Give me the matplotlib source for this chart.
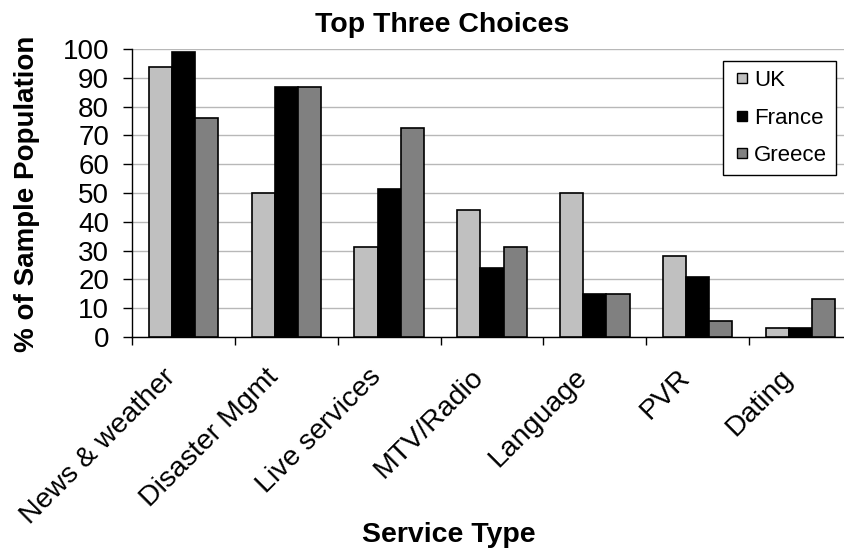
import numpy as np
import matplotlib
matplotlib.use('Agg')
from matplotlib import pyplot as plt
import matplotlib.transforms as mtransforms
from matplotlib.lines import Line2D

# Arial-like font
plt.rcParams['font.family'] = ['Liberation Sans', 'DejaVu Sans']

categories = ['News & weather', 'Disaster Mgmt', 'Live services', 'MTV/Radio',
              'Language', 'PVR', 'Dating']
series = ['UK', 'France', 'Greece']
uk = [93.6, 50.0, 31.3, 44.0, 50.0, 28.2, 3.1]
france = [98.9, 86.9, 51.5, 23.9, 15.1, 20.8, 3.2]
greece = [76.2, 86.9, 72.5, 31.3, 15.0, 5.5, 13.2]
colors = ['#c0c0c0', '#000000', '#808080']

fig = plt.figure(figsize=(8.45, 5.48), dpi=100)
ax = fig.add_axes([132 / 845, 1 - 337 / 548, 720 / 845, 288 / 548])

x = np.arange(len(categories))
w = 0.225
for i, (vals, name, c) in enumerate(zip([uk, france, greece], series, colors)):
    ax.bar(x + (i - 1) * w, vals, w, color=c, edgecolor='black',
           linewidth=1.2, label=name, zorder=3)

ax.set_xlim(-0.5, len(categories) - 0.5)
ax.set_ylim(0, 100)
ax.set_yticks(np.arange(0, 101, 10))
ax.yaxis.grid(True, color='#b8b8b8', linewidth=1)
ax.set_axisbelow(True)

# ticks at category boundaries, labels at centres
ax.set_xticks(np.arange(len(categories) + 1) - 0.5)
ax.set_xticklabels([])
ax.set_xticks(x, minor=True)
ax.set_xticklabels(categories, minor=True, rotation=45, ha='right',
                   va='center', rotation_mode='anchor')
ax.tick_params(axis='x', which='minor', length=0, pad=26, labelsize=20.5)
ax.tick_params(axis='x', which='major', length=6, width=1)
ax.tick_params(axis='y', length=6.5, width=1, labelsize=20, pad=10)
offset = mtransforms.ScaledTranslation(-12 / 100, 0, fig.dpi_scale_trans)
for lab in ax.get_xticklabels(minor=True):
    lab.set_transform(lab.get_transform() + offset)
for s in ['top', 'right']:
    ax.spines[s].set_visible(False)
ax.spines['left'].set_linewidth(1)
ax.spines['bottom'].set_linewidth(1)

handles = [Line2D([], [], marker='s', markersize=6.7, markerfacecolor=c,
                  markeredgecolor='black', markeredgewidth=1, linestyle='none')
           for c in colors]
leg = ax.legend(handles, series, loc='upper right',
                bbox_to_anchor=(836 / 845, 1 - 61 / 548),
                bbox_transform=fig.transFigure, borderaxespad=0, fontsize=16,
                frameon=True, fancybox=False, edgecolor='black', framealpha=1,
                handlelength=0.9, handletextpad=0.1,
                labelspacing=0.75, borderpad=0.4)
leg.get_frame().set_linewidth(1)

fig.text(442 / 845, 1 - 32 / 548, 'Top Three Choices', ha='center',
         va='baseline', fontsize=20.5, fontweight='bold')
fig.text(27 / 845, 1 - 194 / 548, '% of Sample Population', rotation=90,
         ha='center', va='center', fontsize=20, fontweight='bold')
fig.text(449 / 845, 1 - 542 / 548, 'Service Type', ha='center',
         va='baseline', fontsize=20.5, fontweight='bold')

fig.savefig('out.png', dpi=100)
plt.close()
